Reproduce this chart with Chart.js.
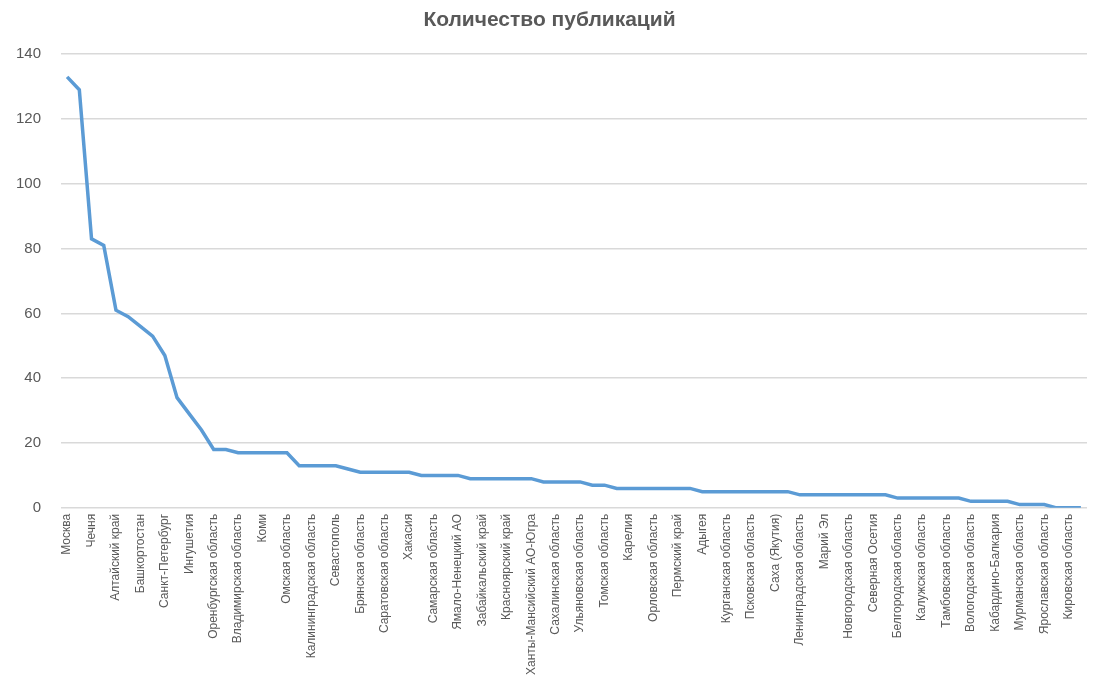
<!DOCTYPE html>
<html>
<head>
<meta charset="utf-8">
<script src="https://cdn.jsdelivr.net/npm/chart.js@4/dist/chart.umd.min.js"></script>
<style>
html,body{margin:0;padding:0;background:#fff;}
#wrap{width:1094px;height:687px;position:relative;}
</style>
</head>
<body>
<div id="wrap"><canvas id="c"></canvas></div>
<script>
const chartTitle = "Количество публикаций";
const regions = [
  "Москва","Дагестан","Чечня","Краснодарский край","Алтайский край","Свердловская область",
  "Башкортостан","Татарстан","Санкт-Петербург","Новосибирская область","Ингушетия","Ставропольский край",
  "Оренбургская область","Крым","Владимирская область","Ростовская область","Коми","Челябинская область",
  "Омская область","Московская область","Калининградская область","Нижегородская область","Севастополь","Волгоградская область",
  "Брянская область","Приморский край","Саратовская область","Хабаровский край","Хакасия","Иркутская область",
  "Самарская область","Кемеровская область","Ямало-Ненецкий АО","Тюменская область","Забайкальский край","Воронежская область",
  "Красноярский край","Липецкая область","Ханты-Мансийский АО-Югра","Тульская область","Сахалинская область","Рязанская область",
  "Ульяновская область","Смоленская область","Томская область","Тверская область","Карелия","Ивановская область",
  "Орловская область","Костромская область","Пермский край","Курская область","Адыгея","Пензенская область",
  "Курганская область","Мордовия","Псковская область","Чувашия","Саха (Якутия)","Удмуртия",
  "Ленинградская область","Архангельская область","Марий Эл","Астраханская область","Новгородская область","Калмыкия",
  "Северная Осетия","Карачаево-Черкесия","Белгородская область","Бурятия","Калужская область","Тыва",
  "Тамбовская область","Алтай","Вологодская область","Амурская область","Кабардино-Балкария","Камчатский край",
  "Мурманская область","Магаданская область","Ярославская область","Еврейская АО","Кировская область","Чукотский АО"
];
const publications = [
  133,129,83,81,61,59,56,53,47,34,29,24,18,18,17,17,17,17,17,13,
  13,13,13,12,11,11,11,11,11,10,10,10,10,9,9,9,9,9,9,8,
  8,8,8,7,7,6,6,6,6,6,6,6,5,5,5,5,5,5,5,5,
  4,4,4,4,4,4,4,4,3,3,3,3,3,3,2,2,2,2,1,1,
  1,0,0,0
];
const yTicks = [0,20,40,60,80,100,120,140];

const textColor = "#595959";
const fontFam = "'Liberation Sans',Arial,sans-serif";

new Chart(document.getElementById('c'), {
  type: 'line',
  data: {
    labels: regions,
    datasets: [{
      label: chartTitle,
      data: publications,
      borderColor: '#5B9BD5',
      borderWidth: 3.5,
      pointRadius: 0,
      tension: 0,
      fill: false
    }]
  },
  options: {
    responsive: true,
    maintainAspectRatio: false,
    animation: false,
    layout: { padding: { left: 12, right: 7, top: 3, bottom: 6 } },
    plugins: {
      legend: { display: false },
      tooltip: { enabled: false },
      title: {
        display: true,
        text: chartTitle,
        color: textColor,
        font: { family: fontFam, size: 21, weight: 'bold' },
        padding: { top: 5, bottom: 21 }
      }
    },
    scales: {
      x: {
        offset: true,
        afterFit: function(axis) { axis.paddingRight = 0; axis.paddingLeft = 0; },
        grid: { display: false, drawTicks: false },
        border: { display: false },
        ticks: {
          autoSkip: false,
          maxRotation: 90,
          minRotation: 90,
          padding: 6,
          color: textColor,
          font: { family: fontFam, size: 12 },
          callback: function(v, i) { return i % 2 === 0 ? regions[i] : ''; }
        }
      },
      y: {
        min: 0,
        max: 140,
        afterBuildTicks: function(axis) { axis.ticks = yTicks.map(v => ({ value: v })); },
        afterFit: function(axis) { axis.width = 49; },
        grid: { color: '#d9d9d9', lineWidth: 1.5, drawTicks: false },
        border: { display: false },
        ticks: {
          padding: 20,
          color: textColor,
          font: { family: fontFam, size: 15 }
        }
      }
    }
  }
});
</script>
</body>
</html>
